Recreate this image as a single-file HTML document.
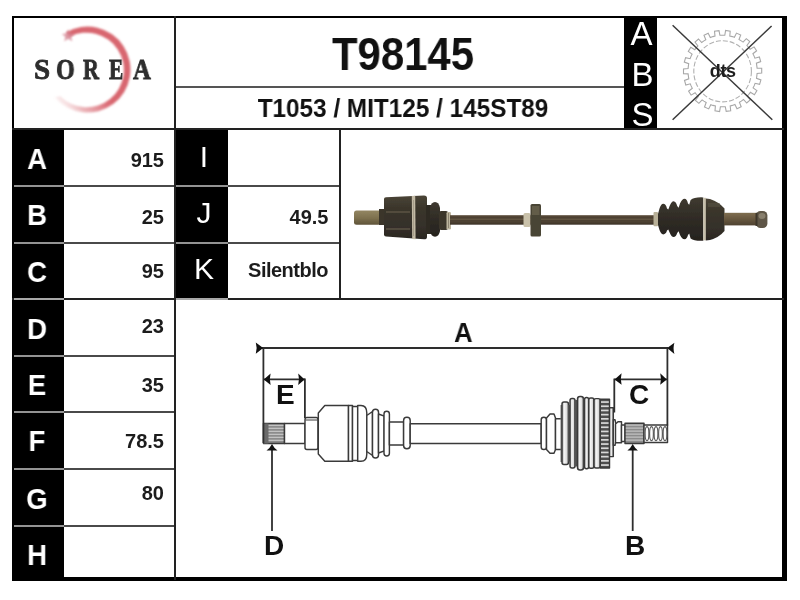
<!DOCTYPE html>
<html><head><meta charset="utf-8">
<style>
*{margin:0;padding:0;box-sizing:border-box}
html,body{width:800px;height:600px;background:#fff;overflow:hidden}
body{position:relative;-webkit-font-smoothing:antialiased;font-family:"Liberation Sans",sans-serif;color:#1a1a1a}
.a{position:absolute;will-change:transform}
.blk{position:absolute;background:#000}
.ln{position:absolute;background:#222}
.gl{position:absolute;background:#939393}
.rs{position:absolute;background:#4a4a4a}
.lab{position:absolute;will-change:transform;color:#fff;font-weight:bold;font-size:30px;line-height:1;text-align:center;transform:scaleX(0.92)}
.lab2{position:absolute;will-change:transform;color:#fff;font-weight:normal;font-size:30px;line-height:1;text-align:center}
.val{position:absolute;will-change:transform;font-weight:bold;font-size:20px;line-height:1;text-align:right;color:#1c1c1c}
</style></head><body>

<!-- black columns -->
<div class="blk" style="left:12px;top:129px;width:52px;height:451px"></div>
<div class="blk" style="left:174px;top:129px;width:54px;height:170px"></div>
<div class="blk" style="left:624px;top:16px;width:33px;height:114px"></div>

<!-- frame -->
<div class="blk" style="left:12px;top:16px;width:775px;height:2px"></div>
<div class="blk" style="left:12px;top:16px;width:2px;height:565px"></div>
<div class="blk" style="left:782px;top:16px;width:5px;height:565px"></div>
<div class="blk" style="left:12px;top:577px;width:775px;height:4px"></div>

<!-- header lines -->
<div class="ln" style="left:174px;top:16px;width:2px;height:564px"></div>
<div class="ln" style="left:12px;top:128px;width:772px;height:2px"></div>
<div class="ln" style="left:176px;top:85.8px;width:448px;height:2px;background:#555"></div>
<div class="ln" style="left:339px;top:129px;width:2px;height:170px"></div>
<div class="ln" style="left:12px;top:298px;width:772px;height:2px"></div>

<!-- row separators -->
<div class="gl" style="left:14px;top:185px;width:50px;height:2px"></div>
<div class="rs" style="left:64px;top:185px;width:110px;height:2px"></div>
<div class="gl" style="left:14px;top:241.5px;width:50px;height:2px"></div>
<div class="rs" style="left:64px;top:241.5px;width:110px;height:2px"></div>
<div class="gl" style="left:14px;top:354.5px;width:50px;height:2px"></div>
<div class="rs" style="left:64px;top:354.5px;width:110px;height:2px"></div>
<div class="gl" style="left:14px;top:411px;width:50px;height:2px"></div>
<div class="rs" style="left:64px;top:411px;width:110px;height:2px"></div>
<div class="gl" style="left:14px;top:468px;width:50px;height:2px"></div>
<div class="rs" style="left:64px;top:468px;width:110px;height:2px"></div>
<div class="gl" style="left:14px;top:525px;width:50px;height:2px"></div>
<div class="rs" style="left:64px;top:525px;width:110px;height:2px"></div>
<div class="gl" style="left:176px;top:185px;width:52px;height:2px"></div>
<div class="rs" style="left:228px;top:185px;width:111px;height:2px"></div>
<div class="gl" style="left:176px;top:241.5px;width:52px;height:2px"></div>
<div class="rs" style="left:228px;top:241.5px;width:111px;height:2px"></div>
<div class="gl" style="left:14px;top:298px;width:50px;height:1.5px;background:#a8a8a8"></div>
<div class="gl" style="left:176px;top:298px;width:52px;height:1.5px;background:#a8a8a8"></div>

<!-- SOREA logo -->
<svg class="a" style="left:0;top:0" width="800" height="600" viewBox="0 0 800 600">
<defs>
 <linearGradient id="rg" x1="56" y1="106" x2="92" y2="76" gradientUnits="userSpaceOnUse">
  <stop offset="0" stop-color="#f0c4c6" stop-opacity="0"/>
  <stop offset="0.4" stop-color="#e49aa0" stop-opacity="0.75"/>
  <stop offset="0.85" stop-color="#dc707a" stop-opacity="1"/>
  <stop offset="1" stop-color="#d8666f" stop-opacity="1"/>
 </linearGradient>
 <filter id="bl" x="-10%" y="-10%" width="120%" height="120%"><feGaussianBlur stdDeviation="0.8"/></filter>
</defs>
<path fill="url(#rg)" filter="url(#bl)" fill-rule="evenodd" d="M65.9,32.4 A43.0,43.0 0 1 1 54.5,97.2 L60.2,96.3 A37.3,37.3 0 1 0 69.7,36.7 Z"/>
<path fill="#d4808e" opacity="0.8" filter="url(#bl)" d="M68.2,29.2 L70,33.6 L74.6,33.9 L71.1,36.8 L72.3,41.3 L68.2,38.8 L64.2,41.3 L65.4,36.8 L61.9,33.9 L66.5,33.6 Z"/>

</svg>


<div class="a" style="left:33.8px;top:55.3px;font:bold 29px 'Liberation Serif',serif;line-height:1;color:#2e2e2e;-webkit-text-stroke:0.8px #2a2a2a;transform:scaleX(0.98);transform-origin:left">S</div>
<div class="a" style="left:56px;top:55.3px;font:bold 29px 'Liberation Serif',serif;line-height:1;color:#2e2e2e;-webkit-text-stroke:0.8px #2a2a2a;transform:scaleX(0.83);transform-origin:left">O</div>
<div class="a" style="left:83.3px;top:55.3px;font:bold 29px 'Liberation Serif',serif;line-height:1;color:#2e2e2e;-webkit-text-stroke:0.8px #2a2a2a;transform:scaleX(0.76);transform-origin:left">R</div>
<div class="a" style="left:108.8px;top:55.3px;font:bold 29px 'Liberation Serif',serif;line-height:1;color:#2e2e2e;-webkit-text-stroke:0.8px #2a2a2a;transform:scaleX(0.74);transform-origin:left">E</div>
<div class="a" style="left:132.8px;top:55.3px;font:bold 29px 'Liberation Serif',serif;line-height:1;color:#2e2e2e;-webkit-text-stroke:0.8px #2a2a2a;transform:scaleX(0.85);transform-origin:left">A</div>


<!-- dts logo -->
<svg class="a" style="left:0;top:0" width="800" height="600" viewBox="0 0 800 600">
<path d="M722.6,35.2 L724.8,35.3 L725.6,30.5 L730.2,31.2 L729.8,36.0 L732.3,36.6 L734.4,37.3 L736.5,33.1 L740.7,35.0 L739.0,39.5 L741.3,40.9 L743.1,42.1 L746.3,38.7 L749.8,41.7 L746.9,45.5 L748.7,47.5 L750.1,49.3 L754.1,46.9 L756.6,50.8 L752.9,53.7 L754.1,56.1 L754.9,58.2 L759.4,57.0 L760.7,61.6 L756.4,63.2 L756.8,65.9 L757.1,68.1 L761.7,68.3 L761.7,73.1 L757.1,73.4 L756.8,76.1 L756.5,78.3 L760.9,79.9 L759.6,84.4 L755.1,83.3 L754.1,85.9 L753.1,87.9 L756.9,90.6 L754.4,94.7 L750.4,92.3 L748.7,94.5 L747.3,96.1 L750.2,99.9 L746.7,103.0 L743.5,99.5 L741.3,101.1 L739.4,102.3 L741.2,106.7 L737.0,108.7 L734.9,104.5 L732.3,105.4 L730.2,105.9 L730.7,110.7 L726.2,111.4 L725.3,106.7 L722.6,106.8 L720.4,106.7 L719.6,111.5 L715.0,110.8 L715.4,106.0 L712.9,105.4 L710.8,104.7 L708.7,108.9 L704.5,107.0 L706.2,102.5 L703.9,101.1 L702.1,99.9 L698.9,103.3 L695.4,100.3 L698.3,96.5 L696.5,94.5 L695.1,92.7 L691.1,95.1 L688.6,91.2 L692.3,88.3 L691.1,85.9 L690.3,83.8 L685.8,85.0 L684.5,80.4 L688.8,78.8 L688.4,76.1 L688.1,73.9 L683.5,73.7 L683.5,68.9 L688.1,68.6 L688.4,65.9 L688.7,63.7 L684.3,62.1 L685.6,57.6 L690.1,58.7 L691.1,56.1 L692.1,54.1 L688.3,51.4 L690.8,47.3 L694.8,49.7 L696.5,47.5 L697.9,45.9 L695.0,42.1 L698.5,39.0 L701.7,42.5 L703.9,40.9 L705.8,39.7 L704.0,35.3 L708.2,33.3 L710.3,37.5 L712.9,36.6 L715.0,36.1 L714.5,31.3 L719.0,30.6 L719.9,35.3 Z" fill="none" stroke="#a8a8a8" stroke-width="1.1"/>
<ellipse cx="722.6" cy="71.3" rx="28.8" ry="30.6" fill="none" stroke="#b0b0b0" stroke-width="1.1" stroke-dasharray="5 2"/>
<line x1="672.6" y1="25.3" x2="772.3" y2="119.7" stroke="#3a3a3a" stroke-width="1.5"/>
<line x1="771.6" y1="26" x2="672.6" y2="119.7" stroke="#3a3a3a" stroke-width="1.5"/>
<text x="722.8" y="77" text-anchor="middle" font-family="Liberation Sans" font-weight="bold" font-size="18" fill="#1e1e1e" letter-spacing="-0.3">dts</text>
</svg>


<!-- driveshaft photo -->
<svg class="a" style="left:0;top:0" width="800" height="600" viewBox="0 0 800 600">
<defs>
 <linearGradient id="shg" x1="0" y1="0" x2="0" y2="1">
  <stop offset="0" stop-color="#5a4c3a"/>
  <stop offset="0.3" stop-color="#4a3e30"/>
  <stop offset="0.7" stop-color="#4e4232"/>
  <stop offset="1" stop-color="#3a3026"/>
 </linearGradient>
 <linearGradient id="stg" x1="0" y1="0" x2="0" y2="1">
  <stop offset="0" stop-color="#938662"/>
  <stop offset="0.5" stop-color="#7f7250"/>
  <stop offset="1" stop-color="#5f5439"/>
 </linearGradient>
 <linearGradient id="cvg" x1="0" y1="0" x2="0" y2="1">
  <stop offset="0" stop-color="#4a4436"/>
  <stop offset="0.3" stop-color="#3a352b"/>
  <stop offset="0.7" stop-color="#35302a"/>
  <stop offset="1" stop-color="#2a2620"/>
 </linearGradient>
 <linearGradient id="btg" x1="0" y1="0" x2="0" y2="1">
  <stop offset="0" stop-color="#3f3a30"/>
  <stop offset="0.5" stop-color="#2f2b25"/>
  <stop offset="1" stop-color="#26231e"/>
 </linearGradient>
 <linearGradient id="rsg" x1="0" y1="0" x2="0" y2="1">
  <stop offset="0" stop-color="#7e6e50"/>
  <stop offset="0.4" stop-color="#6c5c42"/>
  <stop offset="1" stop-color="#4e4230"/>
 </linearGradient>
 <filter id="pb" x="-5%" y="-20%" width="110%" height="140%"><feGaussianBlur stdDeviation="0.5"/></filter>
</defs>
<g filter="url(#pb)">
 <!-- left stub -->
 <rect x="354" y="210.5" width="27" height="14.2" rx="2.5" fill="url(#stg)"/>
 <rect x="379" y="209" width="6" height="16" fill="#3a342a"/>
 <!-- left CV body -->
 <path d="M384,199 Q384,197.5 386,197.3 L424,195.5 Q427,195.6 427,198 L427,237 Q427,239.4 424,239.3 L386,236.5 Q384,236.3 384,234.5 Z" fill="url(#cvg)"/>
 <rect x="386" y="211" width="24" height="2" fill="#6a604c" opacity="0.55"/>
 <rect x="386" y="228" width="24" height="2" fill="#6a604c" opacity="0.55"/>
 <path d="M411.8,196 L415.2,195.8 L415.6,239.2 L412.2,239 Z" fill="#c2b9a4"/>
 <rect x="413" y="200" width="1" height="36" fill="#8a8270" opacity="0.5"/>
 <!-- left boot -->
 <rect x="426" y="205" width="5" height="29" fill="#2e2a24"/>
 <path d="M430,208 Q431,202 435,202 Q439,202 440,208 L440,231 Q439,236.7 435,236.7 Q431,236.7 430,231 Z" fill="url(#btg)"/>
 <rect x="439" y="211" width="9" height="19" rx="2" fill="#3a342b"/>
 <rect x="446.5" y="212" width="4.5" height="17.5" rx="1.2" fill="#bdb59e"/>
 <rect x="448" y="213" width="1" height="15" fill="#6a6250" opacity="0.6"/>
 <!-- shaft -->
 <rect x="450" y="215.2" width="205" height="9.5" fill="url(#shg)"/>
 <rect x="450" y="218.5" width="205" height="1.5" fill="#7a6a52" opacity="0.45"/>
 <!-- damper -->
 <rect x="523.5" y="213" width="7" height="14" rx="1.5" fill="#c9c1aa"/>
 <rect x="530.5" y="204" width="10.5" height="32.5" rx="1.5" fill="#4a4535"/>
 <rect x="532" y="206" width="7.5" height="9" fill="#6a6350" opacity="0.8"/>
 <!-- right ring -->
 <rect x="653.5" y="212" width="4.5" height="14.3" rx="1" fill="#b8b098"/>
 <!-- right boot convolutions -->
 <path d="M658,214 L659.5,208.5 Q661,204 663.2,203.8 Q666,204 667,208.5 L668.3,209.6 L669.6,206 Q671.5,201.2 673.6,201.2 Q676,201.5 677.2,206 L678.6,207.8 L680,203.5 Q682,198.8 684.6,198.8 Q687,199 688,203.5 L689.2,204.8 L690.6,200 Q694,197 703.3,197.4 L703.3,240.8 Q694,241.2 690.6,238.5 L689.2,233.6 L688,235 Q687,239 684.6,239.3 Q682,239.2 680,235 L678.6,231.2 L677.2,233 Q676,237 673.6,237 Q671.5,237 669.6,232.5 L668.3,229.5 L667,230.5 Q666,234.3 663.2,234.4 Q661,234.2 659.5,230 L658,225 Z" fill="url(#btg)"/>
 <rect x="703.3" y="197.8" width="2.6" height="42.5" fill="#c7bfaa"/>
 <!-- right CV body -->
 <path d="M705.8,198.6 L710,199 Q719,202 724.5,208.5 L724.5,231 Q719,237.5 710,240 L705.8,240.4 Z" fill="url(#cvg)"/>
 <rect x="708" y="203" width="12" height="4" fill="#5a5444" opacity="0.5"/>
 <!-- right stub -->
 <rect x="724" y="212.8" width="33" height="12.6" fill="url(#rsg)"/>
 <rect x="756" y="211" width="11.4" height="17" rx="4.5" fill="#5e5646"/>
 <ellipse cx="762" cy="216" rx="3.5" ry="3" fill="#9a927e" opacity="0.7"/>
 <rect x="755.5" y="213" width="2" height="13" fill="#3e3629"/>
</g>
</svg>


<!-- schematic -->
<svg class="a" style="left:0;top:0" width="800" height="600" viewBox="0 0 800 600">
<defs><linearGradient id="cyl" x1="0" y1="0" x2="1" y2="0">
 <stop offset="0" stop-color="#a0a0a0"/><stop offset="0.35" stop-color="#f6f6f6"/><stop offset="0.7" stop-color="#dedede"/><stop offset="1" stop-color="#8e8e8e"/>
</linearGradient></defs>
<g fill="#fff" stroke="#3a3a3a" stroke-width="1.45" stroke-linejoin="round">
 <!-- left spline -->
 <rect x="263.5" y="423.5" width="21" height="20" fill="#8c8c8c"/>
 <g stroke="#d0d0d0" stroke-width="1"><line x1="264.3" y1="425.3" x2="283.7" y2="425.3"/>
<line x1="264.3" y1="428.3" x2="283.7" y2="428.3"/>
<line x1="264.3" y1="431.3" x2="283.7" y2="431.3"/>
<line x1="264.3" y1="434.3" x2="283.7" y2="434.3"/>
<line x1="264.3" y1="437.3" x2="283.7" y2="437.3"/>
<line x1="264.3" y1="440.3" x2="283.7" y2="440.3"/></g>
 <rect x="263.5" y="423.5" width="5" height="20" fill="#6a6a6a" stroke="none"/>
 <rect x="284.5" y="423.5" width="20.5" height="20"/>
 <!-- collar -->
 <rect x="305" y="417.5" width="13" height="32" rx="2"/>
 <line x1="305.5" y1="420" x2="317.5" y2="420" stroke-width="1"/>
 <!-- housing -->
 <path d="M318.3,413 L324.8,405.5 L348.5,405.5 L348.5,461.3 L324.8,461.3 L318.3,454 Z"/>
 <rect x="348.5" y="405.5" width="4" height="55.8"/>
 <rect x="352.5" y="406.5" width="5.2" height="54"/>
 <path d="M357.7,405.5 L361,405.5 Q366.8,405.5 366.8,413 L366.8,454 Q366.8,461.3 361,461.3 L357.7,461.3 Z"/>
 <!-- boot -->
 <path d="M366.8,415.5 L372.5,411.5 L372.5,455.5 L366.8,451.5 Z"/>
 <rect x="372.5" y="409.2" width="6" height="48.8" rx="3"/>
 <path d="M378.5,414 L384.2,416 L384.2,451 L378.5,453 Z"/>
 <rect x="384" y="411.3" width="5.4" height="44.7" rx="2.7"/>
 <rect x="389.4" y="421.9" width="14.2" height="23"/>
 <rect x="403.6" y="417.3" width="6.6" height="31.5" rx="3.2"/>
 <!-- shaft -->
 <rect x="410.2" y="423.7" width="131" height="19.8"/>
 <!-- right joint -->
 <rect x="541.2" y="417.2" width="5.3" height="32.3" rx="2.6"/>
 <path d="M546.5,418 L550,414 L554,414 L555.5,418 L555.5,449.5 L554,453.2 L550,453.2 L546.5,449.5 Z"/>
 <rect x="555.5" y="418.7" width="6.7" height="30.8"/>
 <rect x="560.5" y="405" width="3" height="57" fill="#777" stroke="none"/>
 <rect x="562" y="402" width="6.5" height="62.4" rx="2" fill="url(#cyl)"/>
 <rect x="568.5" y="405" width="1.8" height="56.5" fill="#666" stroke="none"/>
 <rect x="570" y="398.5" width="5" height="69.5" rx="2" fill="url(#cyl)"/>
 <rect x="575" y="400" width="2.6" height="66.5" fill="#555" stroke="none"/>
 <rect x="577.5" y="396.4" width="6" height="73.6" rx="2.5" fill="url(#cyl)"/>
 <rect x="583.5" y="398" width="1.2" height="70" fill="#555" stroke="none"/>
 <rect x="584.5" y="397.4" width="4.2" height="71.4" rx="2" fill="url(#cyl)"/>
 <rect x="588.7" y="398" width="5.3" height="70.3" rx="2" fill="url(#cyl)"/>
 <rect x="594" y="398.6" width="6.3" height="69.4" rx="2" fill="url(#cyl)"/>
 <rect x="600.3" y="399.2" width="9.2" height="68.8" fill="#4e4e4e"/>
 <g fill="#d8d8d8" stroke="none"><rect x="601" y="401.2" width="7.8" height="1.7"/>
<rect x="601" y="405.4" width="7.8" height="1.7"/>
<rect x="601" y="409.6" width="7.8" height="1.7"/>
<rect x="601" y="413.8" width="7.8" height="1.7"/>
<rect x="601" y="418.0" width="7.8" height="1.7"/>
<rect x="601" y="422.2" width="7.8" height="1.7"/>
<rect x="601" y="426.4" width="7.8" height="1.7"/>
<rect x="601" y="430.6" width="7.8" height="1.7"/>
<rect x="601" y="434.8" width="7.8" height="1.7"/>
<rect x="601" y="439.0" width="7.8" height="1.7"/>
<rect x="601" y="443.2" width="7.8" height="1.7"/>
<rect x="601" y="447.4" width="7.8" height="1.7"/>
<rect x="601" y="451.6" width="7.8" height="1.7"/>
<rect x="601" y="455.8" width="7.8" height="1.7"/>
<rect x="601" y="460.0" width="7.8" height="1.7"/>
<rect x="601" y="464.2" width="7.8" height="1.7"/></g>
 <rect x="609.5" y="407.7" width="3.8" height="48.9" fill="url(#cyl)"/>
 <path d="M613.3,419.7 L615,419.7 Q618.5,432.5 615,445.2 L613.3,445.2 Z"/>
 <path d="M615.5,424 L618,421.7 L621.5,421.7 L621.5,442.7 L615.5,442.7 Z"/>
 <rect x="621.5" y="425" width="3.5" height="16.5"/>
 <!-- right spline -->
 <rect x="625" y="423.3" width="19" height="20.2" fill="#8c8c8c"/>
 <g stroke="#d0d0d0" stroke-width="1"><line x1="625.8" y1="425.1" x2="643.2" y2="425.1"/>
<line x1="625.8" y1="428.1" x2="643.2" y2="428.1"/>
<line x1="625.8" y1="431.1" x2="643.2" y2="431.1"/>
<line x1="625.8" y1="434.1" x2="643.2" y2="434.1"/>
<line x1="625.8" y1="437.1" x2="643.2" y2="437.1"/>
<line x1="625.8" y1="440.1" x2="643.2" y2="440.1"/></g>
 <!-- thread -->
 <rect x="644" y="425" width="23.5" height="17.5"/>
 <g fill="none" stroke="#5a5a5a" stroke-width="1.2"><ellipse cx="647.0" cy="433.7" rx="1.9" ry="7"/><ellipse cx="651.5" cy="433.7" rx="1.9" ry="7"/><ellipse cx="656.0" cy="433.7" rx="1.9" ry="7"/><ellipse cx="660.5" cy="433.7" rx="1.9" ry="7"/><ellipse cx="665.0" cy="433.7" rx="1.9" ry="7"/></g>
</g>
<!-- dimension lines -->
<g stroke="#2e2e2e" stroke-width="1.8" fill="none">
 <line x1="262" y1="348" x2="668" y2="348"/>
 <line x1="263.4" y1="347.5" x2="263.4" y2="443"/>
 <line x1="667.4" y1="347.5" x2="667.4" y2="425.5"/>
 <line x1="264" y1="379.4" x2="305" y2="379.4"/>
 <line x1="304.9" y1="378.6" x2="304.9" y2="418"/>
 <line x1="614.3" y1="379.4" x2="667" y2="379.4"/>
 <line x1="614.3" y1="378.6" x2="614.3" y2="412.5"/>
 <line x1="272" y1="448" x2="272" y2="531"/>
 <line x1="632.7" y1="448" x2="632.7" y2="531"/>
</g>
<g fill="#111">
 <path d="M255.8,342.6 L263.2,348 L255.8,353.7 Q257.5,348 255.8,342.6 Z"/>
 <path d="M674.4,342.7 L667.2,348 L674.4,354 Q672.7,348 674.4,342.7 Z"/>
 <path d="M263.8,379.4 L270.6,373.5 Q269,379.4 270.6,385 Z"/>
 <path d="M304.6,379.4 L298.2,373.5 Q299.8,379.4 298.2,385 Z"/>
 <path d="M614.6,379.4 L621.6,373.3 Q620,379.4 621.6,384.7 Z"/>
 <path d="M666.8,379.4 L660.2,373.3 Q661.8,379.4 660.2,384.7 Z"/>
 <path d="M272,444 Q274,448 277.5,450.5 L266.5,450.5 Q270,448 272,444 Z"/>
 <path d="M632.7,444 Q634.7,448 638,450.5 L627.4,450.5 Q630.7,448 632.7,444 Z"/>
</g>
</svg>

<!-- header text -->
<div class="a" style="left:179px;top:31px;width:448px;text-align:center;font-weight:bold;font-size:46px;line-height:1;color:#111;transform:scaleX(0.91)">T98145</div>
<div class="a" style="left:179px;top:94.8px;width:448px;text-align:center;font-weight:bold;font-size:26.5px;line-height:1;color:#111;transform:scaleX(0.918)">T1053 / MIT125 / 145ST89</div>
<div class="a" style="left:625px;top:16.7px;width:33px;text-align:center;color:#fff;font-size:33px;line-height:1">A</div>
<div class="a" style="left:625.5px;top:57.5px;width:33px;text-align:center;color:#fff;font-size:33px;line-height:1">B</div>
<div class="a" style="left:625.5px;top:98px;width:33px;text-align:center;color:#fff;font-size:33px;line-height:1">S</div>


<div class="a" style="left:453.5px;top:318.5px;font-weight:bold;font-size:28px;line-height:1;color:#111;transform:scaleX(0.92);transform-origin:left">A</div>
<div class="a" style="left:275.5px;top:380.5px;font-weight:bold;font-size:28px;line-height:1;color:#111">E</div>
<div class="a" style="left:629px;top:380.5px;font-weight:bold;font-size:28px;line-height:1;color:#111">C</div>
<div class="a" style="left:263.5px;top:531.5px;font-weight:bold;font-size:28px;line-height:1;color:#111">D</div>
<div class="a" style="left:624.5px;top:531.5px;font-weight:bold;font-size:28px;line-height:1;color:#111">B</div>

<!-- labels -->
<div class="lab" style="left:11px;top:144px;width:52px">A</div>
<div class="lab" style="left:11px;top:199.5px;width:52px">B</div>
<div class="lab" style="left:11px;top:256.5px;width:52px">C</div>
<div class="lab" style="left:11px;top:313.5px;width:52px">D</div>
<div class="lab" style="left:11px;top:369.5px;width:52px">E</div>
<div class="lab" style="left:11px;top:426px;width:52px">F</div>
<div class="lab" style="left:11px;top:483.5px;width:52px">G</div>
<div class="lab" style="left:11px;top:539.5px;width:52px">H</div>
<div class="lab2" style="left:176.5px;top:142px;width:54px">I</div>
<div class="lab2" style="left:176.5px;top:198px;width:54px">J</div>
<div class="lab2" style="left:176.5px;top:254px;width:54px">K</div>

<!-- values -->
<div class="val" style="left:64px;top:150px;width:100px">915</div>
<div class="val" style="left:64px;top:207px;width:100px">25</div>
<div class="val" style="left:64px;top:261px;width:100px">95</div>
<div class="val" style="left:64px;top:316px;width:100px">23</div>
<div class="val" style="left:64px;top:375px;width:100px">35</div>
<div class="val" style="left:64px;top:431px;width:100px">78.5</div>
<div class="val" style="left:64px;top:483px;width:100px">80</div>
<div class="val" style="left:229px;top:207px;width:99.5px">49.5</div>
<div class="val" style="left:228px;top:260px;width:100px;letter-spacing:-0.5px">Silentblo</div>

</body></html>
